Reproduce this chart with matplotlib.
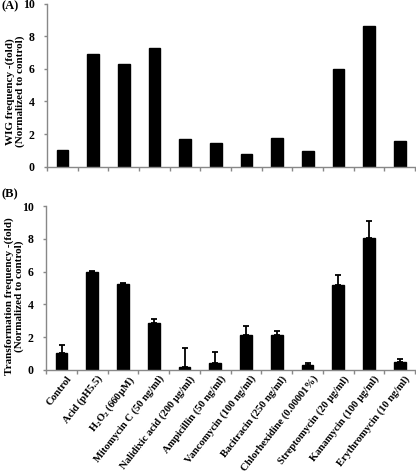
import matplotlib.pyplot as plt
import numpy as np

categories = ['Control', 'Acid (pH5.5)', 'H$_2$O$_2$ (660\u00b5M)', 'Mitomycin C (50 ng/ml)',
              'Nalidixic acid (200 \u00b5g/ml)', 'Ampicillin (50 ng/ml)',
              'Vancomycin (100 ng/ml)', 'Bacitracin (250 ng/ml)',
              'Chlorhexidine (0.00001%)', 'Streptomycin (20 \u00b5g/ml)',
              'Kanamycin (100 \u00b5g/ml)', 'Erythromycin (10 ng/ml)']
wig_fold = [1.03, 6.91, 6.33, 7.28, 1.68, 1.48, 0.76, 1.78, 0.95, 5.98, 8.65, 1.58]
trans_fold = [1.02, 6.0, 5.26, 2.89, 0.2, 0.41, 2.1, 2.1, 0.31, 5.18, 8.03, 0.49]
trans_err = [0.47, 0.06, 0.02, 0.21, 1.16, 0.65, 0.59, 0.3, 0.1, 0.61, 1.08, 0.16]
yticks = [0, 2, 4, 6, 8, 10]

plt.rcParams['font.family'] = 'Liberation Serif'
plt.rcParams['font.weight'] = 'bold'
plt.rcParams['mathtext.fontset'] = 'custom'
plt.rcParams['mathtext.rm'] = 'Liberation Serif:bold'
plt.rcParams['mathtext.it'] = 'Liberation Serif:bold'
plt.rcParams['mathtext.default'] = 'rm'

fig = plt.figure(figsize=(4.16, 4.76), dpi=100)
ax_a = fig.add_axes([0.113, 0.650, 0.885, 0.342])
ax_b = fig.add_axes([0.111, 0.223, 0.887, 0.344])

x = np.arange(len(categories))


def style_axis(ax, ylabel, ycenter):
    ax.set_xlim(-0.5, len(categories) - 0.5)
    ax.set_ylim(0, 10)
    ax.set_yticks(yticks)
    ax.set_yticklabels([str(v) for v in yticks], fontsize=8.5, fontweight='bold')
    for s in ['top', 'right']:
        ax.spines[s].set_visible(False)
    for s in ['left', 'bottom']:
        ax.spines[s].set_color('#888888')
        ax.spines[s].set_linewidth(1.0)
    ax.set_xticks(np.arange(len(categories) + 1) - 0.5)
    ax.set_xticklabels([])
    ax.tick_params(axis='x', direction='out', length=3, color='#888888', width=1)
    ax.tick_params(axis='y', direction='out', length=2, color='#888888', width=1, pad=7)
    ax.set_ylabel(ylabel, fontsize=8, fontweight='bold', va='center', linespacing=1.1)
    ax.yaxis.set_label_coords(-0.086, ycenter)


ax_a.bar(x, wig_fold, width=0.38, color='black', edgecolor='black')
style_axis(ax_a, 'WIG frequency -(fold)\n(Normalized to control)', 0.46)

ax_b.bar(x, trans_fold, width=0.38, color='black', edgecolor='black')
ax_b.errorbar(x, trans_fold, yerr=[np.zeros(len(trans_err)), trans_err], fmt='none',
              ecolor='black', elinewidth=1.3, capsize=2.5, capthick=1.3)
style_axis(ax_b, 'Transformation frequency -(fold)\n(Normalized to control)', 0.45)

for i, lab in enumerate(categories):
    ax_b.text(i + 0.15, -0.25, lab, rotation=52, ha='right', va='top',
              rotation_mode='anchor', fontsize=7.6, fontweight='bold',
              transform=ax_b.transData)

fig.text(0.004, 0.987, '(A)', fontsize=9, fontweight='bold', va='center')
fig.text(0.004, 0.592, '(B)', fontsize=9, fontweight='bold', va='center')

fig.savefig('out.png', dpi=100)
